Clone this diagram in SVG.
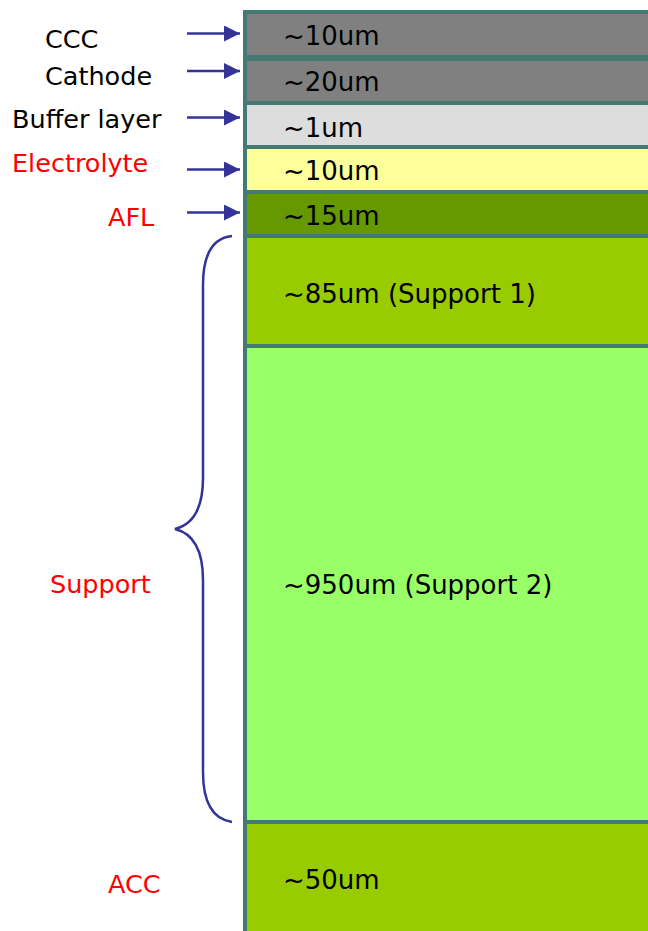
<svg xmlns="http://www.w3.org/2000/svg" width="648" height="931" viewBox="0 0 648 931">
<style>
.layer{stroke:#437B74;stroke-width:4}
.t{font-family:"DejaVu Sans","Verdana",sans-serif;font-size:26px;fill:#000}
.lb{font-size:25.5px}
.red{fill:#FF0000}
.arr{stroke:#333399;stroke-width:2.5;fill:none}
</style>
<defs>
<marker id="ah" markerWidth="16" markerHeight="16" refX="16" refY="8" orient="auto" markerUnits="userSpaceOnUse">
<path d="M0,0 L16,8 L0,16 Z" fill="#333399"/>
</marker>
</defs>
<rect width="648" height="931" fill="#fff"/>
<g id="layer-ccc"><rect class="layer" x="245" y="12" width="420" height="45" fill="#808080"/><text class="t" x="283" y="45">~10um</text></g>
<g id="layer-cathode"><rect class="layer" x="245" y="59" width="420" height="44" fill="#808080"/><text class="t" x="283" y="91">~20um</text></g>
<g id="layer-buffer"><rect class="layer" x="245" y="103" width="420" height="44" fill="#DDDDDD"/><text class="t" x="283" y="137">~1um</text></g>
<g id="layer-electrolyte"><rect class="layer" x="245" y="147" width="420" height="45" fill="#FFFF99"/><text class="t" x="283" y="180">~10um</text></g>
<g id="layer-afl"><rect class="layer" x="245" y="192" width="420" height="44" fill="#669900"/><text class="t" x="283" y="225">~15um</text></g>
<g id="layer-support1"><rect class="layer" x="245" y="236" width="420" height="110" fill="#99CC00"/><text class="t" x="283" y="303">~85um (Support 1)</text></g>
<g id="layer-support2"><rect class="layer" x="245" y="346" width="420" height="476" fill="#99FF66"/><text class="t" x="283" y="594">~950um (Support 2)</text></g>
<g id="layer-acc"><rect class="layer" x="245" y="822" width="420" height="130" fill="#99CC00"/><text class="t" x="283" y="889">~50um</text></g>
<g id="labels">
<text class="t lb" x="45" y="48">CCC</text>
<text class="t lb" x="45" y="85">Cathode</text>
<text class="t lb" x="12" y="128">Buffer layer</text>
<text class="t lb red" x="12" y="172">Electrolyte</text>
<text class="t lb red" x="108" y="226">AFL</text>
<text class="t lb red" x="50" y="593">Support</text>
<text class="t lb red" x="108" y="893">ACC</text>
</g>
<g id="connectors">
<line class="arr" x1="187" y1="33.5" x2="240" y2="33.5" marker-end="url(#ah)"/>
<line class="arr" x1="187" y1="71" x2="240" y2="71" marker-end="url(#ah)"/>
<line class="arr" x1="187" y1="117.5" x2="240" y2="117.5" marker-end="url(#ah)"/>
<line class="arr" x1="187" y1="169.5" x2="240" y2="169.5" marker-end="url(#ah)"/>
<line class="arr" x1="187" y1="212.5" x2="240" y2="212.5" marker-end="url(#ah)"/>
<path class="arr" d="M232,236 C212,238 203,255 203,285 L203,478 C203,505 195,524 175,529 C195,534 203,553 203,580 L203,772 C203,802 212,819 232,822"/>
</g>
</svg>
